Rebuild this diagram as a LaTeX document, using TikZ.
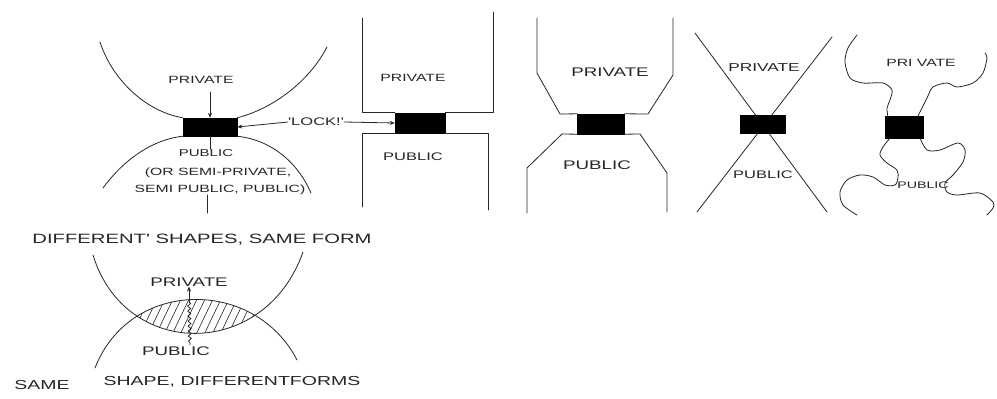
\documentclass[tikz,border=0pt]{standalone}
\usepackage{fontspec}
\newfontfamily\handf[FakeStretch=1.5]{Liberation Sans}
\usetikzlibrary{arrows.meta,decorations.pathmorphing}
\begin{document}
\begin{tikzpicture}[x=1pt,y=-1pt,
  sk/.style={line width=0.8pt, draw=black!85, line cap=round, line join=round},
  txt/.style={font=\handf\fontsize{#1}{#1}\selectfont, text=black!85, inner sep=0pt},
  blk/.style={fill=black, draw=black, inner sep=0pt},
  tip/.style={-{Stealth[length=5pt,width=4pt]}}]
\useasboundingbox[fill=white] (0,0) rectangle (997,399);

% ---------- panel 1 ----------
\node[blk, minimum width=54pt, minimum height=18pt] (b1) at (210,127) {};
\node[txt=10.5] (pv1) at (201,80) {PRIVATE};
\node[txt=10] (pu1) at (206,153) {PUBLIC};
\node[txt=10.5] (or1) at (218,173) {(OR SEMI-PRIVATE,};
\node[txt=10.5] (or2) at (220,190) {SEMI PUBLIC, PUBLIC)};
\node[txt=11] (lk) at (316,122) {'LOCK!'};
\draw[sk] (100,42) .. controls (113,82) and (148,112) .. (b1.north west);
\draw[sk] (b1.north east) .. controls (275,108) and (310,80) .. (327,47);
\draw[sk] (103,188) .. controls (122,162) and (150,140) .. (b1.south west);
\draw[sk] (b1.south east) .. controls (272,140) and (298,163) .. (311,193);
\coordinate (a1) at (210,92);
\draw[sk,tip] (a1) -- (b1.north);
\draw[sk] (b1.south) -- (b1.south |- pu1.north);
\coordinate (e1) at (207,213);
\draw[sk] (or2.south -| e1) -- (e1);
\draw[sk,tip] (lk.west) -- (b1.east);

% ---------- panel 2 ----------
\node[blk, minimum width=50pt, minimum height=20pt] (b2) at (420,123) {};
\node[txt=10.5] (pv2) at (413,78) {PRIVATE};
\node[txt=11] (pu2) at (413,157) {PUBLIC};
\draw[sk] (362,18) |- (b2.north west);
\draw[sk] (b2.north east) -| (493,12);
\draw[sk] (362,207) |- (b2.south west);
\draw[sk] (b2.south east) -| (488,210);
\draw[sk,tip] (lk.east) -- (b2.west);

% ---------- panel 3 ----------
\node[blk, minimum width=47pt, minimum height=20pt] (b3) at (601,124) {};
\node[txt=12.5] (pv3) at (610,72) {PRIVATE};
\node[txt=12.5] (pu3) at (597,165) {PUBLIC};
\draw[sk] (537,18) -- (537,73) -- (560,114) -- (b3.north west);
\draw[sk] (b3.north east) -- (648,114) -- (673,75) -- (673,18);
\draw[sk] (b3.south west) -- (562,134) -- (527,168) -- (527,213);
\draw[sk] (b3.south east) -- (640,134) -- (667,173) -- (667,212);

% ---------- panel 4 ----------
\draw[sk] (695,33) -- (827,212);
\draw[sk] (832,37) -- (697,212);
\node[blk, minimum width=45pt, minimum height=18pt] (b4) at (763,124) {};
\node[txt=11.5] (pv4) at (764,68) {PRIVATE};
\node[txt=11] (pu4) at (763,175) {PUBLIC};

% ---------- panel 5 ----------
\node[blk, minimum width=38pt, minimum height=22pt] (b5) at (904,127.5) {};
\node[txt=10.5] (pv5) at (921,63) {PRI VATE};
\draw[sk] plot[smooth] coordinates {(857,35) (848,48) (845,62) (850,78) (863,83) (883,83) (892,90) (890,100) (887,108) (888,117)};
\draw[sk] plot[smooth] coordinates {(918,116) (927,98) (933,87) (947,83) (957,87) (973,83) (983,73) (987,58) (985,53)};
\draw[sk] plot[smooth] coordinates {(890,138) (883,147) (880,155) (887,163) (897,170) (898,178) (895,185) (885,185) (873,177) (860,175) (847,180) (840,192) (843,205) (857,215)};
\draw[sk] plot[smooth] coordinates {(920,138) (927,150) (940,150) (958,143) (965,150) (963,162) (953,175) (945,183) (947,192) (957,195) (980,193) (993,202) (993,208) (987,215)};
\node[txt=9.5] (pu5) at (923,185) {PUBLIC};

% ---------- bottom ----------
\node[txt=13.5] (hd) at (202,240) {DIFFERENT' SHAPES, SAME FORM};
\draw[sk] (93,255) .. controls (125,360) and (265,360) .. (303,252);
\draw[sk] (95,368) .. controls (130,278) and (255,278) .. (297,360);
\begin{scope}
  \clip (93,255) .. controls (125,360) and (265,360) .. (303,252) -- (303,200) -- (93,200) -- cycle;
  \clip (95,368) .. controls (130,278) and (255,278) .. (297,360) -- (297,400) -- (95,400) -- cycle;
  \foreach \i in {0,...,22} \draw[line width=0.6pt, black!85] (95+\i*8,345) -- ++(24,-50);
\end{scope}
\node[txt=12.5] (pv6) at (189,282) {PRIVATE};
\coordinate (l1) at (189,302);
\coordinate (l2) at (190,345);
\draw[sk,tip] (l1) -- (pv6.south -| l1);
\draw[sk, decorate, decoration={snake, amplitude=1.5pt, segment length=5pt}] (l1) -- (l2);
\node[txt=12.5] (pu6) at (176,351) {PUBLIC};
\node[txt=13] (sm) at (42,385) {SAME};
\node[txt=13] (sh) at (232,382) {SHAPE, DIFFERENTFORMS};
\end{tikzpicture}
\end{document}
